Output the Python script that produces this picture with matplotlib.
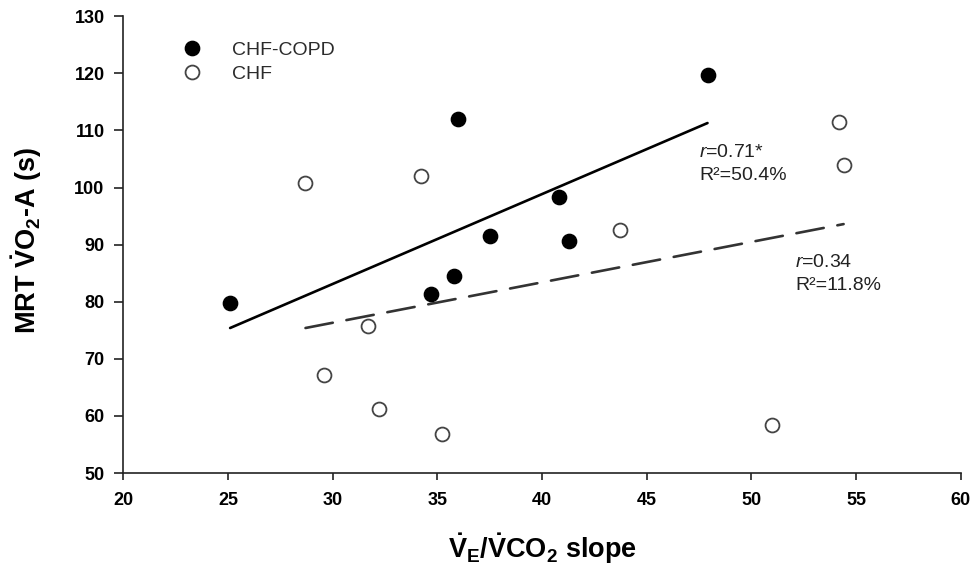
import matplotlib
matplotlib.use("Agg")
import matplotlib.pyplot as plt

plt.rcParams['font.family'] = ['Liberation Sans', 'DejaVu Sans']
plt.rcParams['mathtext.fontset'] = 'custom'
plt.rcParams['mathtext.rm'] = 'Liberation Sans'
plt.rcParams['mathtext.it'] = 'Liberation Sans:italic'
plt.rcParams['mathtext.bf'] = 'Liberation Sans:bold'
plt.rcParams['lines.scale_dashes'] = False

# ---- data ----
copd_x = [25.1, 36.0, 47.9, 40.8, 37.5, 41.3, 35.8, 34.7]
copd_y = [79.8, 112.0, 119.7, 98.3, 91.5, 90.7, 84.5, 81.3]

chf_x = [28.7, 34.2, 43.7, 54.2, 54.4, 31.7, 29.6, 32.2, 35.2, 51.0]
chf_y = [100.8, 102.1, 92.5, 111.5, 104.0, 75.8, 67.1, 61.2, 56.9, 58.4]

copd_fit_x = [25.1, 47.9]
copd_fit_y = [75.4, 111.3]
chf_fit_x = [28.7, 54.4]
chf_fit_y = [75.4, 93.6]

x_ticks = [20, 25, 30, 35, 40, 45, 50, 55, 60]
y_ticks = [50, 60, 70, 80, 90, 100, 110, 120, 130]

fig = plt.figure(figsize=(9.75, 5.65), dpi=100)
ax = fig.add_axes([0.1265, 0.1628, 0.859, 0.8084])

ax.plot(copd_fit_x, copd_fit_y, color='black', lw=1.9, solid_capstyle='round', zorder=2)
ax.plot(chf_fit_x, chf_fit_y, color='#333333', lw=1.9, dashes=(20, 10), dash_capstyle='round', zorder=2)

ax.plot(copd_x, copd_y, 'o', ms=10.3, color='black', mec='black', zorder=3, label='CHF-COPD')
ax.plot(chf_x, chf_y, 'o', ms=10, mfc='white', mec='#444444', mew=1.3, zorder=3, label='CHF')

ax.set_xlim(20, 60)
ax.set_ylim(50, 130)
ax.set_xticks(x_ticks)
ax.set_yticks(y_ticks)
ax.set_xticklabels([str(v) for v in x_ticks], fontweight='bold', fontsize=13)
ax.set_yticklabels([str(v) for v in y_ticks], fontweight='bold', fontsize=13)

for s in ['top', 'right']:
    ax.spines[s].set_visible(False)
for s in ['left', 'bottom']:
    ax.spines[s].set_linewidth(1.2)
    ax.spines[s].set_color('#222222')
ax.tick_params(axis='x', length=5, width=1.2, pad=8.5, color='#222222')
ax.tick_params(axis='y', length=6.5, width=1.2, pad=7, color='#222222')

ax.set_xlabel(r'$\mathbf{\dot{V}_E}$/$\mathbf{\dot{V}}$CO$_\mathbf{2}$ slope',
              fontsize=19.5, fontweight='bold', labelpad=16)
ax.set_ylabel(r'MRT $\mathbf{\dot{V}}$O$_\mathbf{2}$-A (s)',
              fontsize=19.5, fontweight='bold')
ax.yaxis.set_label_coords(-0.095, 0.51)

ann_color = '#222222'
ann_fs = 14
ax.text(47.5, 105.4, r'$\mathit{r}$=0.71*', fontsize=ann_fs, color=ann_color, ha='left', va='baseline')
ax.text(47.5, 101.3, 'R²=50.4%', fontsize=ann_fs, color=ann_color, ha='left', va='baseline')
ax.text(52.1, 86.1, r'$\mathit{r}$=0.34', fontsize=ann_fs, color=ann_color, ha='left', va='baseline')
ax.text(52.1, 82.1, 'R²=11.8%', fontsize=ann_fs, color=ann_color, ha='left', va='baseline')

leg = ax.legend(loc='upper left', bbox_to_anchor=(0.0716, 0.945), frameon=False,
                handlelength=0.9, handletextpad=1.6, labelspacing=0.33,
                borderpad=0, borderaxespad=0, fontsize=14, numpoints=1)
for t in leg.get_texts():
    t.set_color('#2b2b2b')

fig.savefig('out.png', dpi=100)
